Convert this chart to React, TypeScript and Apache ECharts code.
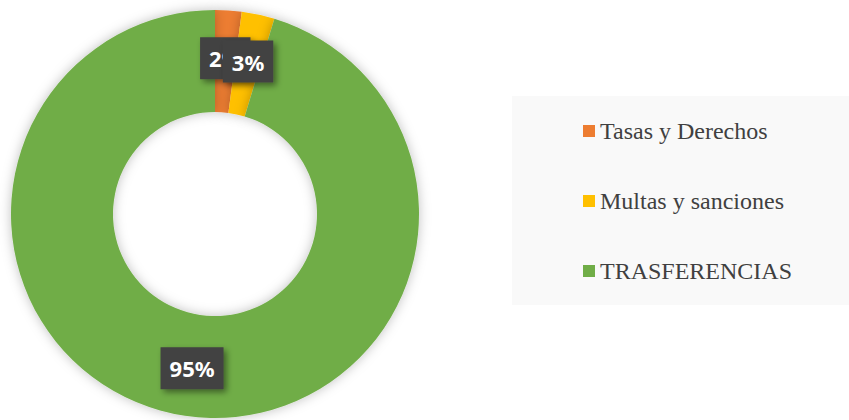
import React, { useEffect, useRef } from "react";
import * as echarts from "echarts";

const categories = ["Tasas y Derechos", "Multas y sanciones", "TRASFERENCIAS"];
const values = [2.1, 2.6, 95.3];
const colors = ["#ED7D31", "#FFC000", "#70AD47"];

export default function App() {
  const ref = useRef<HTMLDivElement>(null);
  useEffect(() => {
    if (!ref.current) return;
    const chart = echarts.init(ref.current, null, { renderer: "svg" });
    chart.setOption({
      animation: false,
      backgroundColor: "#ffffff",
      graphic: [
        {
          type: "rect",
          left: 512,
          top: 96,
          shape: { width: 337, height: 209 },
          style: { fill: "#f9f9f9" },
          z: -1,
        },
      ],
      legend: {
        orient: "vertical",
        left: 583,
        top: 118,
        padding: 0,
        itemGap: 44,
        itemWidth: 12,
        itemHeight: 12,
        icon: "rect",
        data: categories,
        textStyle: {
          fontFamily: "Liberation Serif",
          fontSize: 24,
          lineHeight: 26,
          color: "#404040",
        },
      },
      series: [
        {
          type: "pie",
          center: [215, 214],
          radius: [102, 204],
          startAngle: 90,
          clockwise: true,
          avoidLabelOverlap: false,
          labelLayout: { hideOverlap: false },
          itemStyle: {
            shadowBlur: 12,
            shadowColor: "rgba(0,0,0,0.25)",
            shadowOffsetX: 0,
            shadowOffsetY: 0,
          },
          emphasis: { disabled: true },
          label: {
            show: true,
            position: "inside",
            formatter: (p: any) => Math.round(p.percent) + "%",
            color: "#ffffff",
            fontFamily: "Noto Sans",
            fontWeight: "bold",
            fontSize: 22,
            lineHeight: 24,
            backgroundColor: "#424242",
            padding: [9, 9],
            shadowColor: "rgba(0,0,0,0.45)",
            shadowBlur: 6,
            shadowOffsetX: 3,
            shadowOffsetY: 3,
          },
          labelLine: { show: false },
          data: categories.map((name, i) => ({
            name,
            value: values[i],
            itemStyle: { color: colors[i] },
          })),
        },
      ],
    });
    return () => chart.dispose();
  }, []);
  return (
    <div
      ref={ref}
      style={{ position: "fixed", left: 0, top: 0, width: 849, height: 420 }}
    />
  );
}
